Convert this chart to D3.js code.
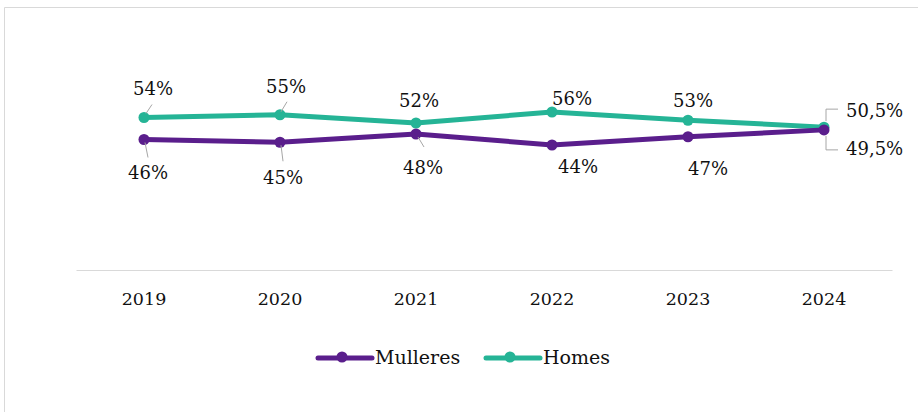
<!DOCTYPE html>
<html>
<head>
<meta charset="utf-8">
<script src="https://cdn.jsdelivr.net/npm/d3@7"></script>
<style>
  html, body { margin: 0; padding: 0; background: #fff; }
  svg { display: block; }
</style>
</head>
<body>
<svg id="chart" width="918" height="412"></svg>
<script>
// ---- data ----
const years = ["2019", "2020", "2021", "2022", "2023", "2024"];
const mulleres = [46, 45, 48, 44, 47, 49.5];
const homes = [54, 55, 52, 56, 53, 50.5];
const mulleresLabels = ["46%", "45%", "48%", "44%", "47%", "49,5%"];
const homesLabels = ["54%", "55%", "52%", "56%", "53%", "50,5%"];
const seriesNames = ["Mulleres", "Homes"];

// ---- styles / layout ----
const colors = { Mulleres: "#5a1e8c", Homes: "#25b496" };
const font = "'DejaVu Serif', serif";

const svg = d3.select("#chart");

// frame
svg.append("path")
  .attr("d", "M4.5,412 V7.5 H918")
  .attr("fill", "none").attr("stroke", "#d9d9d9").attr("stroke-width", 1);

const x = d3.scaleBand().domain(years).range([76, 892]);
const y = d3.scaleLinear().domain([0, 100]).range([266, -9]);
const cx = d => x(d) + x.bandwidth() / 2;

// category axis
const xAxis = d3.axisBottom(x).tickSize(0).tickPadding(0);
const gx = svg.append("g").attr("transform", "translate(0,270)").call(xAxis);
gx.select(".domain").attr("stroke", "#d9d9d9").attr("stroke-width", 1.2);
gx.selectAll("text")
  .attr("font-family", font).attr("font-size", 17.5).attr("fill", "#111")
  .attr("dy", null).attr("y", 35);

const line = d3.line().x(d => cx(d.year)).y(d => y(d.v));

const series = [
  { name: "Homes", values: homes, labels: homesLabels },
  { name: "Mulleres", values: mulleres, labels: mulleresLabels }
];

// label offsets relative to points (dx, dy of baseline) and leader lines
const labelPos = {
  Homes: [[9, -23], [6, -22], [3, -16], [20, -7], [5, -13], [22, -10]],
  Mulleres: [[4, 39], [3, 42], [7, 40], [26, 28], [20, 38], [22, 25]]
};
const leaders = {
  Homes: [[[2, -4], [8, -13]], [[1, -3], [7, -13]], null, null, null, null],
  Mulleres: [[[1, 3], [4, 18]], [[1, 3], [3, 19]], [[2, 3], [8, 13]], null, null, null]
};

series.forEach(s => {
  const pts = years.map((yr, i) => ({ year: yr, v: s.values[i] }));
  svg.append("path").datum(pts)
    .attr("d", line).attr("fill", "none")
    .attr("stroke", colors[s.name]).attr("stroke-width", 5)
    .attr("stroke-linejoin", "round").attr("stroke-linecap", "round");
  svg.append("g").selectAll("circle").data(pts).join("circle")
    .attr("cx", d => cx(d.year)).attr("cy", d => y(d.v)).attr("r", 5.5)
    .attr("fill", colors[s.name]);
});

// leaders
series.forEach(s => {
  years.forEach((yr, i) => {
    const l = leaders[s.name][i];
    if (!l) return;
    const px = cx(yr), py = y(s.values[i]);
    svg.append("line")
      .attr("x1", px + l[0][0]).attr("y1", py + l[0][1])
      .attr("x2", px + l[1][0]).attr("y2", py + l[1][1])
      .attr("stroke", "#a6a6a6").attr("stroke-width", 1);
  });
});

// bracket leaders for last point
{
  const last = years.length - 1;
  const px = cx(years[last]);
  const pyH = y(homes[last]), pyM = y(mulleres[last]);
  svg.append("path")
    .attr("d", `M${px + 14},${pyH - 18} H${px + 2} V${pyH - 6}`)
    .attr("fill", "none").attr("stroke", "#a6a6a6").attr("stroke-width", 1);
  svg.append("path")
    .attr("d", `M${px + 2},${pyM + 6} V${pyM + 20} H${px + 14}`)
    .attr("fill", "none").attr("stroke", "#a6a6a6").attr("stroke-width", 1);
}

// labels
series.forEach(s => {
  svg.append("g").selectAll("text").data(years).join("text")
    .attr("x", (yr, i) => cx(yr) + labelPos[s.name][i][0])
    .attr("y", (yr, i) => y(s.values[i]) + labelPos[s.name][i][1])
    .attr("text-anchor", (yr, i) => i === years.length - 1 ? "start" : "middle")
    .attr("font-family", font).attr("font-size", 18).attr("fill", "#111")
    .text((yr, i) => s.labels[i]);
});

// legend
const legend = svg.append("g").attr("transform", "translate(318,358)");
const legendX = [0, 168];
seriesNames.forEach((n, i) => {
  const g = legend.append("g").attr("transform", `translate(${legendX[i]},0)`);
  g.append("line").attr("x1", 0).attr("x2", 54).attr("y1", 0).attr("y2", 0)
    .attr("stroke", colors[n]).attr("stroke-width", 5).attr("stroke-linecap", "round");
  g.append("circle").attr("cx", 24).attr("cy", -1).attr("r", 5.5).attr("fill", colors[n]);
  g.append("text").attr("x", 57).attr("y", 6)
    .attr("font-family", font).attr("font-size", 19).attr("fill", "#111")
    .text(n);
});
</script>
</body>
</html>
